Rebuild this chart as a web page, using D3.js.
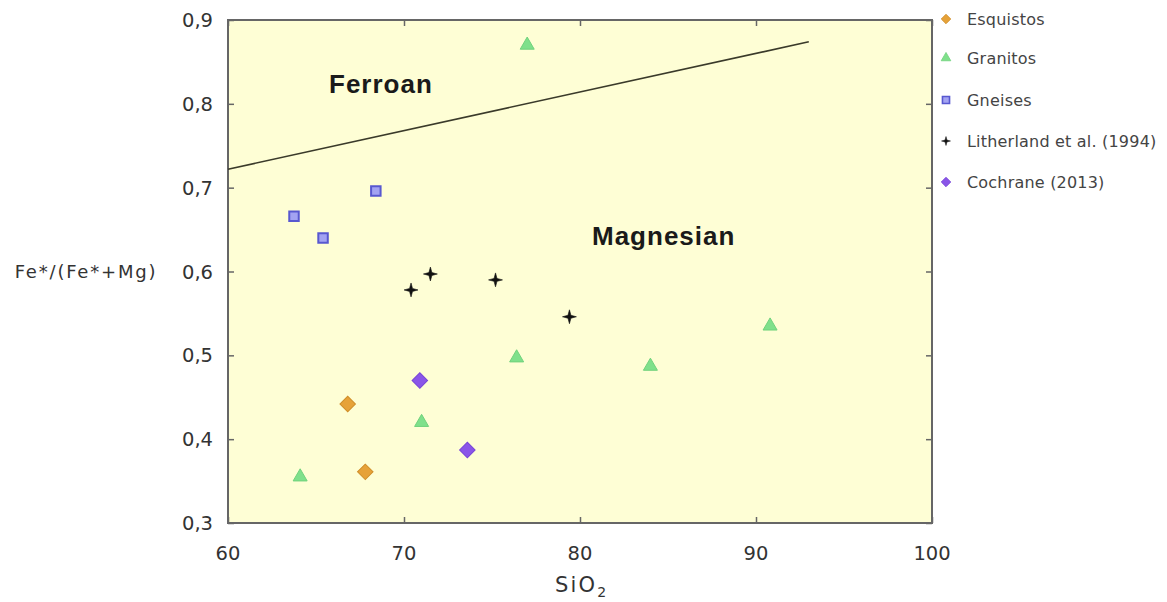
<!DOCTYPE html>
<html><head><meta charset="utf-8">
<script src="https://cdn.jsdelivr.net/npm/d3@7"></script>
<style>body{margin:0;background:#fff;} svg{display:block;}</style>
</head><body>
<svg id="c" width="1167" height="602"></svg>
<script>
const xTicks = [60, 70, 80, 90, 100];
const yTicks = [0.3, 0.4, 0.5, 0.6, 0.7, 0.8, 0.9];
const seriesNames = ["Esquistos", "Granitos", "Gneises", "Litherland et al. (1994)", "Cochrane (2013)"];
const esquistos = [[66.8, 0.442], [67.8, 0.361]];
const granitos = [[77.0, 0.870], [64.1, 0.355], [71.0, 0.420], [76.4, 0.497], [84.0, 0.487], [90.8, 0.535]];
const gneises = [[63.75, 0.666], [65.4, 0.640], [68.4, 0.696]];
const litherland = [[70.4, 0.578], [71.5, 0.597], [75.2, 0.590], [79.4, 0.546]];
const cochrane = [[70.9, 0.470], [73.6, 0.387]];
const boundary = [[60, 0.722], [93, 0.874]];

const svg = d3.select("#c");
const L = 228, R = 932, T = 20, B = 523;
const x = d3.scaleLinear().domain([60, 100]).range([L, R]);
const y = d3.scaleLinear().domain([0.3, 0.9]).range([B, T]);
const fmt = v => d3.format(".1f")(v).replace(".", ",");
const FONT = "DejaVu Sans, Verdana, sans-serif";
const BFONT = "Liberation Sans, Arial, sans-serif";

svg.append("rect").attr("x", L).attr("y", T).attr("width", R - L).attr("height", B - T)
  .attr("fill", "#fefed5");

const tickStyle = g => { g.select(".domain").remove(); g.selectAll("line").attr("stroke", "#666").attr("stroke-width", 1.5); };

svg.append("g").attr("transform", `translate(0,${B})`)
  .call(d3.axisTop(x).tickValues(xTicks).tickSize(6).tickFormat(""))
  .call(tickStyle);
svg.append("g").attr("transform", `translate(0,${T})`)
  .call(d3.axisBottom(x).tickValues(xTicks).tickSize(6).tickFormat(""))
  .call(tickStyle);
svg.append("g").attr("transform", `translate(${L},0)`)
  .call(d3.axisRight(y).tickValues(yTicks).tickSize(6).tickFormat(""))
  .call(tickStyle);
svg.append("g").attr("transform", `translate(${R},0)`)
  .call(d3.axisLeft(y).tickValues(yTicks).tickSize(6).tickFormat(""))
  .call(tickStyle);

// tick labels
svg.append("g").selectAll("text").data(xTicks).join("text")
  .attr("x", d => x(d)).attr("y", B + 37).attr("text-anchor", "middle")
  .attr("font-family", FONT).attr("font-size", 19.5).attr("fill", "#333")
  .text(d => d);
svg.append("g").selectAll("text").data(yTicks).join("text")
  .attr("x", L - 15).attr("y", d => y(d) + 7).attr("text-anchor", "end")
  .attr("font-family", FONT).attr("font-size", 19.5).attr("fill", "#333")
  .text(d => fmt(d));

// frame
svg.append("rect").attr("x", L).attr("y", T).attr("width", R - L).attr("height", B - T)
  .attr("fill", "none").attr("stroke", "#666").attr("stroke-width", 2);

// boundary line
svg.append("path").datum(boundary)
  .attr("d", d3.line().x(d => x(d[0])).y(d => y(d[1])))
  .attr("stroke", "#3a3a2a").attr("stroke-width", 1.6).attr("fill", "none");

// field labels
svg.append("text").attr("x", 329).attr("y", 93)
  .attr("font-family", BFONT).attr("font-size", 26).attr("font-weight", "bold").attr("letter-spacing", 1).attr("fill", "#1a1a1a")
  .text("Ferroan");
svg.append("text").attr("x", 592).attr("y", 245)
  .attr("font-family", BFONT).attr("font-size", 26).attr("font-weight", "bold").attr("letter-spacing", 1).attr("fill", "#1a1a1a")
  .text("Magnesian");

// axis titles
svg.append("text").attr("x", 86).attr("y", 278).attr("text-anchor", "middle")
  .attr("font-family", FONT).attr("font-size", 18).attr("letter-spacing", 1.8).attr("fill", "#333")
  .text("Fe*/(Fe*+Mg)");
const xt = svg.append("text").attr("x", 555).attr("y", 592)
  .attr("font-family", FONT).attr("font-size", 21).attr("letter-spacing", 2.2).attr("fill", "#333");
xt.append("tspan").text("SiO");
xt.append("tspan").attr("font-size", 14).attr("dy", 5).text("2");

// custom 4-point star
const star4 = {
  draw(ctx, size) {
    const r = Math.sqrt(size) * 0.9, ri = r * 0.3;
    for (let i = 0; i < 8; i++) {
      const a = i * Math.PI / 4 - Math.PI / 2;
      const rr = i % 2 === 0 ? r : ri;
      if (i === 0) ctx.moveTo(rr * Math.cos(a), rr * Math.sin(a));
      else ctx.lineTo(rr * Math.cos(a), rr * Math.sin(a));
    }
    ctx.closePath();
  }
};

// markers
const styles = [
  { data: esquistos, sym: d3.symbolSquare, rot: 45, size: 120, fill: "#e6a238", stroke: "#cf8d28", sw: 1, lsize: 45 },
  { data: granitos, sym: d3.symbolTriangle, rot: 0, size: 85, fill: "#7fe08b", stroke: "#70d27c", sw: 1, lsize: 40 },
  { data: gneises, sym: d3.symbolSquare, rot: 0, size: 90, fill: "#a3a3f2", stroke: "#5858d0", sw: 2, lsize: 50 },
  { data: litherland, sym: star4, rot: 0, size: 60, fill: "#111", stroke: "#111", sw: 0.6, lsize: 25 },
  { data: cochrane, sym: d3.symbolSquare, rot: 45, size: 120, fill: "#8a55e8", stroke: "#7744d8", sw: 1, lsize: 45 }
];
styles.forEach(s => {
  svg.append("g").selectAll("path").data(s.data).join("path")
    .attr("transform", d => `translate(${x(d[0])},${y(d[1])}) rotate(${s.rot})`)
    .attr("d", d3.symbol().type(s.sym).size(s.size))
    .attr("fill", s.fill).attr("stroke", s.stroke).attr("stroke-width", s.sw);
});

// legend
const legY = [19, 58, 100, 141, 182];
const lg = svg.append("g");
styles.forEach((s, i) => {
  lg.append("path").attr("transform", `translate(946,${legY[i]}) rotate(${s.rot})`)
    .attr("d", d3.symbol().type(s.sym).size(s.lsize))
    .attr("fill", s.fill).attr("stroke", s.stroke).attr("stroke-width", s.sw * 0.8);
  lg.append("text").attr("x", 967).attr("y", legY[i] + 6)
    .attr("font-family", FONT).attr("font-size", 16).attr("letter-spacing", 0.2).attr("fill", "#444")
    .text(seriesNames[i]);
});
</script>
</body></html>
